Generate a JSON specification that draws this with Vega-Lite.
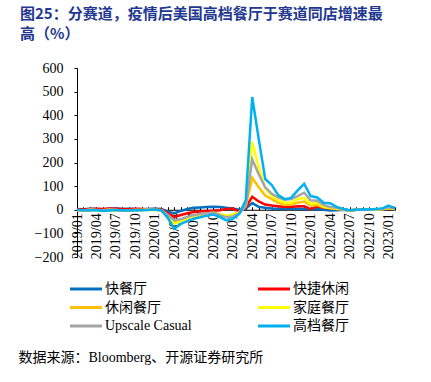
{
  "$schema": "https://vega.github.io/schema/vega-lite/v6.json",
  "width": 318,
  "height": 189,
  "autosize": {"type": "none"},
  "padding": {"left": 77, "top": 68, "right": 36, "bottom": 125},
  "background": "white",
  "title": {
    "text": ["图25：分赛道，疫情后美国高档餐厅于赛道同店增速最", "高（%）"],
    "anchor": "start",
    "frame": "group",
    "orient": "top",
    "baseline": "top",
    "offset": 0,
    "dx": -57,
    "dy": -19,
    "lineHeight": 20,
    "font": "Noto Sans CJK SC",
    "fontSize": 15,
    "fontWeight": "bold",
    "color": "#23388F"
  },
  "config": {"view": {"stroke": null}},
  "data": {"values": [
    {"m":"2019/01","快餐厅":3,"快捷休闲":2,"休闲餐厅":-2,"家庭餐厅":-3,"Upscale Casual":-2,"高档餐厅":0},
    {"m":"2019/02","快餐厅":2,"快捷休闲":1,"休闲餐厅":-3,"家庭餐厅":-4,"Upscale Casual":-3,"高档餐厅":-2},
    {"m":"2019/03","快餐厅":4,"快捷休闲":3,"休闲餐厅":0,"家庭餐厅":-1,"Upscale Casual":1,"高档餐厅":-3},
    {"m":"2019/04","快餐厅":3,"快捷休闲":4,"休闲餐厅":-1,"家庭餐厅":-2,"Upscale Casual":-1,"高档餐厅":-1},
    {"m":"2019/05","快餐厅":2,"快捷休闲":3,"休闲餐厅":-2,"家庭餐厅":-3,"Upscale Casual":-2,"高档餐厅":-5},
    {"m":"2019/06","快餐厅":4,"快捷休闲":5,"休闲餐厅":1,"家庭餐厅":-1,"Upscale Casual":0,"高档餐厅":-3},
    {"m":"2019/07","快餐厅":5,"快捷休闲":4,"休闲餐厅":-1,"家庭餐厅":-4,"Upscale Casual":-1,"高档餐厅":-1},
    {"m":"2019/08","快餐厅":3,"快捷休闲":3,"休闲餐厅":-3,"家庭餐厅":-3,"Upscale Casual":-4,"高档餐厅":-2},
    {"m":"2019/09","快餐厅":4,"快捷休闲":2,"休闲餐厅":-2,"家庭餐厅":-2,"Upscale Casual":-3,"高档餐厅":-3},
    {"m":"2019/10","快餐厅":3,"快捷休闲":4,"休闲餐厅":-1,"家庭餐厅":-1,"Upscale Casual":-2,"高档餐厅":-1},
    {"m":"2019/11","快餐厅":2,"快捷休闲":3,"休闲餐厅":0,"家庭餐厅":-2,"Upscale Casual":-1,"高档餐厅":-2},
    {"m":"2019/12","快餐厅":3,"快捷休闲":2,"休闲餐厅":1,"家庭餐厅":0,"Upscale Casual":1,"高档餐厅":-1},
    {"m":"2020/01","快餐厅":4,"快捷休闲":3,"休闲餐厅":0,"家庭餐厅":-1,"Upscale Casual":0,"高档餐厅":1},
    {"m":"2020/02","快餐厅":3,"快捷休闲":1,"休闲餐厅":-2,"家庭餐厅":-3,"Upscale Casual":-2,"高档餐厅":-3},
    {"m":"2020/03","快餐厅":-8,"快捷休闲":-15,"休闲餐厅":-25,"家庭餐厅":-28,"Upscale Casual":-22,"高档餐厅":-35},
    {"m":"2020/04","快餐厅":-15,"快捷休闲":-30,"休闲餐厅":-52,"家庭餐厅":-58,"Upscale Casual":-45,"高档餐厅":-80},
    {"m":"2020/05","快餐厅":-5,"快捷休闲":-22,"休闲餐厅":-42,"家庭餐厅":-48,"Upscale Casual":-40,"高档餐厅":-60},
    {"m":"2020/06","快餐厅":3,"快捷休闲":-15,"休闲餐厅":-32,"家庭餐厅":-35,"Upscale Casual":-30,"高档餐厅":-48},
    {"m":"2020/07","快餐厅":8,"快捷休闲":-10,"休闲餐厅":-28,"家庭餐厅":-25,"Upscale Casual":-22,"高档餐厅":-38},
    {"m":"2020/08","快餐厅":10,"快捷休闲":-7,"休闲餐厅":-22,"家庭餐厅":-20,"Upscale Casual":-18,"高档餐厅":-32},
    {"m":"2020/09","快餐厅":12,"快捷休闲":-5,"休闲餐厅":-18,"家庭餐厅":-16,"Upscale Casual":-15,"高档餐厅":-25},
    {"m":"2020/10","快餐厅":13,"快捷休闲":-4,"休闲餐厅":-15,"家庭餐厅":-13,"Upscale Casual":-12,"高档餐厅":-20},
    {"m":"2020/11","快餐厅":12,"快捷休闲":-2,"休闲餐厅":-20,"家庭餐厅":-18,"Upscale Casual":-22,"高档餐厅":-30},
    {"m":"2020/12","快餐厅":8,"快捷休闲":3,"休闲餐厅":-28,"家庭餐厅":-25,"Upscale Casual":-32,"高档餐厅":-45},
    {"m":"2021/01","快餐厅":5,"快捷休闲":5,"休闲餐厅":-22,"家庭餐厅":-20,"Upscale Casual":-28,"高档餐厅":-38},
    {"m":"2021/02","快餐厅":0,"快捷休闲":-8,"休闲餐厅":-10,"家庭餐厅":-12,"Upscale Casual":-15,"高档餐厅":-18},
    {"m":"2021/03","快餐厅":5,"快捷休闲":10,"休闲餐厅":15,"家庭餐厅":20,"Upscale Casual":15,"高档餐厅":40},
    {"m":"2021/04","快餐厅":28,"快捷休闲":55,"休闲餐厅":135,"家庭餐厅":287,"Upscale Casual":213,"高档餐厅":477},
    {"m":"2021/05","快餐厅":12,"快捷休闲":35,"休闲餐厅":95,"家庭餐厅":180,"Upscale Casual":150,"高档餐厅":300},
    {"m":"2021/06","快餐厅":8,"快捷休闲":22,"休闲餐厅":60,"家庭餐厅":90,"Upscale Casual":95,"高档餐厅":130},
    {"m":"2021/07","快餐厅":5,"快捷休闲":18,"休闲餐厅":45,"家庭餐厅":60,"Upscale Casual":68,"高档餐厅":105},
    {"m":"2021/08","快餐厅":4,"快捷休闲":15,"休闲餐厅":30,"家庭餐厅":40,"Upscale Casual":52,"高档餐厅":62},
    {"m":"2021/09","快餐厅":3,"快捷休闲":12,"休闲餐厅":20,"家庭餐厅":30,"Upscale Casual":42,"高档餐厅":45},
    {"m":"2021/10","快餐厅":3,"快捷休闲":12,"休闲餐厅":22,"家庭餐厅":30,"Upscale Casual":45,"高档餐厅":50},
    {"m":"2021/11","快餐厅":4,"快捷休闲":15,"休闲餐厅":30,"家庭餐厅":45,"Upscale Casual":58,"高档餐厅":82},
    {"m":"2021/12","快餐厅":4,"快捷休闲":15,"休闲餐厅":35,"家庭餐厅":50,"Upscale Casual":72,"高档餐厅":110},
    {"m":"2022/01","快餐厅":2,"快捷休闲":3,"休闲餐厅":18,"家庭餐厅":25,"Upscale Casual":40,"高档餐厅":58},
    {"m":"2022/02","快餐厅":3,"快捷休闲":14,"休闲餐厅":20,"家庭餐厅":30,"Upscale Casual":38,"高档餐厅":52},
    {"m":"2022/03","快餐厅":0,"快捷休闲":8,"休闲餐厅":10,"家庭餐厅":12,"Upscale Casual":20,"高档餐厅":30},
    {"m":"2022/04","快餐厅":-3,"快捷休闲":5,"休闲餐厅":6,"家庭餐厅":8,"Upscale Casual":12,"高档餐厅":28},
    {"m":"2022/05","快餐厅":-2,"快捷休闲":3,"休闲餐厅":3,"家庭餐厅":5,"Upscale Casual":8,"高档餐厅":12},
    {"m":"2022/06","快餐厅":0,"快捷休闲":2,"休闲餐厅":1,"家庭餐厅":2,"Upscale Casual":3,"高档餐厅":3},
    {"m":"2022/07","快餐厅":-3,"快捷休闲":-3,"休闲餐厅":-3,"家庭餐厅":-3,"Upscale Casual":-3,"高档餐厅":-2},
    {"m":"2022/08","快餐厅":0,"快捷休闲":0,"休闲餐厅":0,"家庭餐厅":0,"Upscale Casual":0,"高档餐厅":0},
    {"m":"2022/09","快餐厅":1,"快捷休闲":1,"休闲餐厅":1,"家庭餐厅":1,"Upscale Casual":1,"高档餐厅":2},
    {"m":"2022/10","快餐厅":0,"快捷休闲":0,"休闲餐厅":0,"家庭餐厅":0,"Upscale Casual":0,"高档餐厅":1},
    {"m":"2022/11","快餐厅":1,"快捷休闲":2,"休闲餐厅":1,"家庭餐厅":1,"Upscale Casual":2,"高档餐厅":3},
    {"m":"2022/12","快餐厅":2,"快捷休闲":3,"休闲餐厅":2,"家庭餐厅":2,"Upscale Casual":3,"高档餐厅":5},
    {"m":"2023/01","快餐厅":5,"快捷休闲":5,"休闲餐厅":6,"家庭餐厅":8,"Upscale Casual":10,"高档餐厅":18},
    {"m":"2023/02","快餐厅":3,"快捷休闲":8,"休闲餐厅":3,"家庭餐厅":4,"Upscale Casual":5,"高档餐厅":7}
  ]},
  "transform": [
    {"fold": ["快餐厅", "快捷休闲", "休闲餐厅", "家庭餐厅", "Upscale Casual", "高档餐厅"], "as": ["series", "value"]}
  ],
  "mark": {"type": "line", "strokeWidth": 2.5},
  "encoding": {
    "x": {
      "field": "m",
      "type": "ordinal",
      "scale": {"type": "point", "padding": 0},
      "title": "数据来源：Bloomberg、开源证券研究所",
      "axis": {
        "offset": -47.25,
        "domainColor": "black",
        "domainWidth": 1,
        "tickColor": "black",
        "tickSize": -3,
        "labelAngle": -90,
        "labelPadding": 6,
        "labelOverlap": false,
        "labelFont": "Liberation Serif",
        "labelFontSize": 14,
        "labelColor": "black",
        "labelExpr": "test(/(01|04|07|10)$/, datum.value) ? datum.value : ''",
        "titleX": -59,
        "titleY": 148,
        "titleAlign": "left",
        "titleAnchor": "start",
        "titleBaseline": "middle",
        "titleFont": "Liberation Serif, Noto Sans CJK SC",
        "titleFontSize": 14,
        "titleFontWeight": "normal",
        "titleColor": "black"
      }
    },
    "y": {
      "field": "value",
      "type": "quantitative",
      "scale": {"domain": [-200, 600], "nice": false},
      "title": null,
      "axis": {
        "values": [-200, -100, 0, 100, 200, 300, 400, 500, 600],
        "grid": false,
        "domainColor": "black",
        "tickColor": "black",
        "tickSize": 3,
        "labelPadding": 11,
        "labelFont": "Liberation Serif",
        "labelFontSize": 14,
        "labelColor": "black"
      }
    },
    "color": {
      "field": "series",
      "type": "nominal",
      "scale": {
        "domain": ["快餐厅", "快捷休闲", "休闲餐厅", "家庭餐厅", "Upscale Casual", "高档餐厅"],
        "range": ["#0070C0", "#FF0000", "#FFC000", "#FFFF00", "#A5A5A5", "#00B0F0"]
      },
      "legend": {
        "orient": "none",
        "legendX": 2,
        "legendY": 214,
        "columns": 2,
        "direction": "horizontal",
        "title": null,
        "padding": 0,
        "symbolType": "M-4,0H4",
        "symbolSize": 64,
        "symbolStrokeWidth": 3,
        "labelFont": "Liberation Serif, Noto Sans CJK SC",
        "labelFontSize": 14,
        "labelColor": "black",
        "labelOffset": 12,
        "columnPadding": 60,
        "rowPadding": 4.5
      }
    }
  }
}
